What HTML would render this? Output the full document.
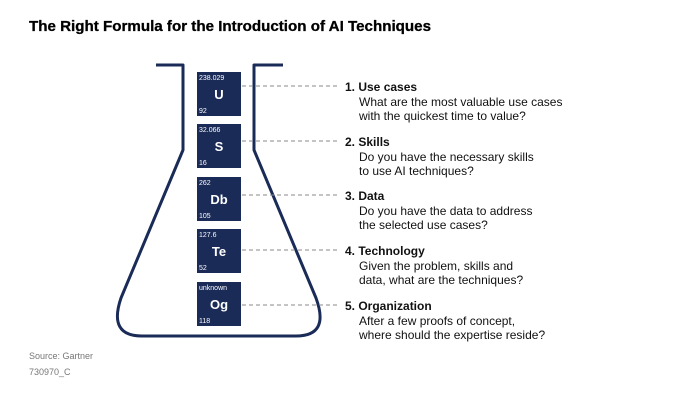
<!DOCTYPE html>
<html><head><meta charset="utf-8"><style>
html,body{margin:0;padding:0;background:#fff;}
svg{display:block;font-family:"Liberation Sans",sans-serif;}
</style></head><body>
<svg width="674" height="412" viewBox="0 0 674 412" xmlns="http://www.w3.org/2000/svg">
<text x="29" y="31" font-size="15" font-weight="bold" fill="#000" stroke="#000" stroke-width="0.3" textLength="402" lengthAdjust="spacingAndGlyphs">The Right Formula for the Introduction of AI Techniques</text>
<path d="M156 65 H183 V150 L121 298 Q108 336 142 336 H296 Q330 336 316 298 L254 150 V65 H283" fill="none" stroke="#1a2b57" stroke-width="3" stroke-linejoin="round"/>
<g fill="#1a2b57">
<rect x="197" y="72" width="44" height="44"/>
<rect x="197" y="124" width="44" height="44"/>
<rect x="197" y="177" width="44" height="44"/>
<rect x="197" y="229" width="44" height="44"/>
<rect x="197" y="282" width="44" height="44"/>
</g>
<g fill="#fff" font-size="7">
<text x="199" y="80">238.029</text><text x="199" y="113">92</text>
<text x="199" y="132">32.066</text><text x="199" y="165">16</text>
<text x="199" y="185">262</text><text x="199" y="218">105</text>
<text x="199" y="237">127.6</text><text x="199" y="270">52</text>
<text x="199" y="290">unknown</text><text x="199" y="323">118</text>
</g>
<g fill="#fff" font-size="13" font-weight="bold" text-anchor="middle">
<text x="219" y="99">U</text>
<text x="219" y="151">S</text>
<text x="219" y="204">Db</text>
<text x="219" y="256">Te</text>
<text x="219" y="309">Og</text>
</g>
<g stroke="#888" stroke-width="1" stroke-dasharray="4,3">
<line x1="242" y1="86" x2="340" y2="86"/>
<line x1="242" y1="141" x2="340" y2="141"/>
<line x1="242" y1="195" x2="340" y2="195"/>
<line x1="242" y1="250" x2="340" y2="250"/>
<line x1="242" y1="305" x2="340" y2="305"/>
</g>
<g font-size="12" fill="#111">
<text x="345" y="91" font-weight="bold">1. Use cases</text>
<text x="359" y="106">What are the most valuable use cases</text>
<text x="359" y="120">with the quickest time to value?</text>
<text x="345" y="146" font-weight="bold">2. Skills</text>
<text x="359" y="161">Do you have the necessary skills</text>
<text x="359" y="175">to use AI techniques?</text>
<text x="345" y="200" font-weight="bold">3. Data</text>
<text x="359" y="215">Do you have the data to address</text>
<text x="359" y="229">the selected use cases?</text>
<text x="345" y="255" font-weight="bold">4. Technology</text>
<text x="359" y="270">Given the problem, skills and</text>
<text x="359" y="284">data, what are the techniques?</text>
<text x="345" y="310" font-weight="bold">5. Organization</text>
<text x="359" y="325">After a few proofs of concept,</text>
<text x="359" y="339">where should the expertise reside?</text>
</g>
<text x="29" y="359" font-size="9" fill="#777">Source: Gartner</text>
<text x="29" y="375" font-size="9" fill="#777">730970_C</text>
</svg>
</body></html>
